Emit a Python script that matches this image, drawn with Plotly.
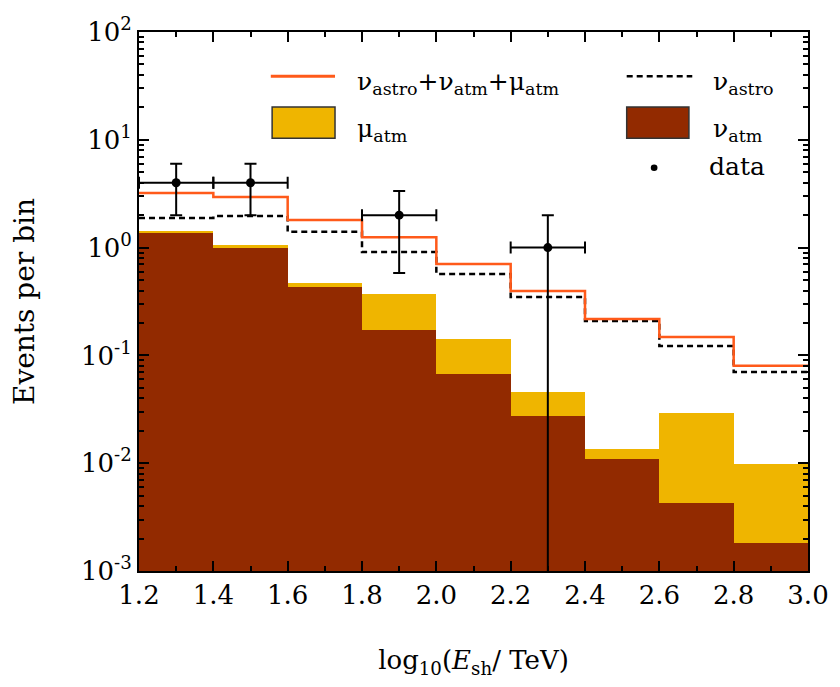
import plotly.graph_objects as go

# Bin edges / centres in log10(E_sh / TeV)
edges = [1.2, 1.4, 1.6, 1.8, 2.0, 2.2, 2.4, 2.6, 2.8, 3.0]
centers = [1.3, 1.5, 1.7, 1.9, 2.1, 2.3, 2.5, 2.7, 2.9]

# Expected events per bin
nu_atm = [1.36, 0.99, 0.43, 0.172, 0.067, 0.0274, 0.0110, 0.00428, 0.00182]
mu_atm = [0.07, 0.07, 0.04, 0.198, 0.075, 0.0183, 0.0025, 0.0249, 0.0080]
total = [3.21, 2.95, 1.80, 1.25, 0.705, 0.396, 0.218, 0.148, 0.080]
nu_astro = [1.88, 1.96, 1.40, 0.91, 0.569, 0.348, 0.208, 0.122, 0.070]

# Observed events with asymmetric errors
data_x = [1.3, 1.5, 1.9, 2.3]
data_y = [4, 4, 2, 1]
data_err_up = [2.0, 2.0, 1.35, 1.0]
data_err_dn = [2.0, 2.0, 1.42, 1.0]

ytick_exp = [-3, -2, -1, 0, 1, 2]
xtick_vals = [1.2, 1.4, 1.6, 1.8, 2.0, 2.2, 2.4, 2.6, 2.8, 3.0]

BROWN = "#922a00"
YELLOW = "#efb500"
ORANGE = "#ff5a1a"
FONT = "DejaVu Serif"


def step(vals):
    # repeat last value so the 'hv' line reaches the right edge
    return list(vals) + [vals[-1]]


fig = go.Figure()
fig.add_bar(x=centers, y=nu_atm, width=0.2, marker=dict(color=BROWN, line_width=0),
            showlegend=False)
fig.add_bar(x=centers, y=mu_atm, width=0.2, marker=dict(color=YELLOW, line_width=0),
            showlegend=False)
fig.add_scatter(x=edges, y=step(nu_astro), mode="lines", line_shape="hv",
                line=dict(color="black", width=2.5, dash="6px,4px"), showlegend=False)
fig.add_scatter(x=edges, y=step(total), mode="lines", line_shape="hv",
                line=dict(color=ORANGE, width=2.5), showlegend=False)
fig.add_scatter(
    x=data_x, y=data_y, mode="markers", marker=dict(color="black", size=9),
    error_y=dict(type="data", symmetric=False, array=data_err_up,
                 arrayminus=data_err_dn, color="black", thickness=2, width=6),
    error_x=dict(type="constant", value=0.1, color="black", thickness=2, width=6),
    showlegend=False,
)

# hand-drawn legend (paper coords), two columns like the original
legend_font = dict(family=FONT, size=25, color="black")
fig.add_shape(type="line", xref="paper", yref="paper", x0=0.197, x1=0.293,
              y0=0.918, y1=0.918, line=dict(color=ORANGE, width=3))
fig.add_shape(type="line", xref="paper", yref="paper", x0=0.729, x1=0.827,
              y0=0.918, y1=0.918, line=dict(color="black", width=2.5, dash="6px,4px"))
fig.add_shape(type="rect", xref="paper", yref="paper", x0=0.199, x1=0.293,
              y0=0.803, y1=0.861, fillcolor=YELLOW, line=dict(color="#333", width=1.5))
fig.add_shape(type="rect", xref="paper", yref="paper", x0=0.729, x1=0.822,
              y0=0.803, y1=0.861, fillcolor=BROWN, line=dict(color="#333", width=1.5))
fig.add_shape(type="circle", xref="paper", yref="paper", x0=0.765, x1=0.775,
              y0=0.742, y1=0.754, fillcolor="black", line_width=0)
legend_items = [
    (0.323, 0.905, "ν<sub>astro</sub>+ν<sub>atm</sub>+μ<sub>atm</sub>"),
    (0.855, 0.905, "ν<sub>astro</sub>"),
    (0.323, 0.818, "μ<sub>atm</sub>"),
    (0.855, 0.818, "ν<sub>atm</sub>"),
    (0.849, 0.750, "data"),
]
for x, y, txt in legend_items:
    fig.add_annotation(x=x, y=y, xref="paper", yref="paper", text=txt,
                       showarrow=False, xanchor="left", yanchor="middle",
                       font=legend_font)

axis_common = dict(
    showline=True, linecolor="black", linewidth=2, mirror="ticks",
    ticks="inside", ticklen=10, tickwidth=1.5, tickcolor="black",
    showgrid=False, zeroline=False,
    tickfont=dict(family=FONT, size=26, color="black"),
)
fig.update_xaxes(
    range=[1.2, 3.0], tickvals=xtick_vals,
    ticktext=[f"{v:.1f}" for v in xtick_vals],
    minor=dict(ticks="inside", ticklen=5, tickwidth=1.5, tickcolor="black", dtick=0.1),
    title=dict(text="log<sub>10</sub>(<i>E</i><sub>sh</sub>/ TeV)",
               font=dict(family=FONT, size=26, color="black"), standoff=42),
    **axis_common,
)
fig.update_yaxes(
    type="log", range=[-3, 2],
    tickvals=[10.0 ** e for e in ytick_exp],
    ticktext=[f"10<sup>{e}</sup>" for e in ytick_exp],
    minor=dict(ticks="inside", ticklen=5, tickwidth=1.5, tickcolor="black",
               tickvals=[m * 10.0 ** e for e in ytick_exp[:-1] for m in range(2, 10)]),
    title=dict(text="Events per bin", font=dict(family=FONT, size=28, color="black"),
               standoff=42),
    **axis_common,
)
# page body has an 8px default margin, so the figure is a bit smaller than the window
fig.update_layout(
    width=832, height=679, barmode="stack", bargap=0,
    margin=dict(l=131, r=32, t=24, b=116, autoexpand=False),
    paper_bgcolor="white", plot_bgcolor="white",
    font=dict(family=FONT, color="black"),
)

fig.write_html("out.html")
